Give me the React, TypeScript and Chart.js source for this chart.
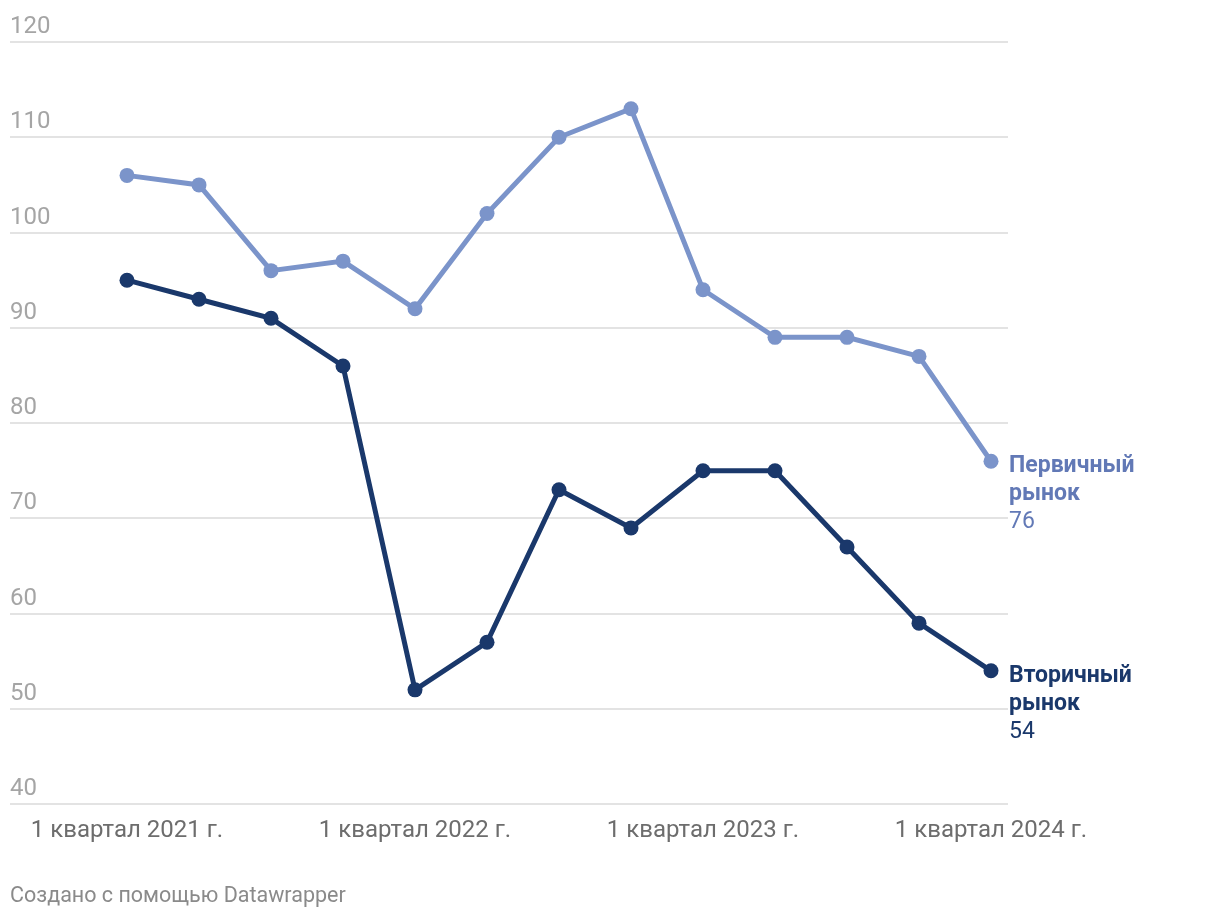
import React, { useEffect, useRef } from "react";
import { Chart, registerables } from "chart.js";

Chart.register(...registerables);

const quarters = [
  "1 квартал 2021 г.", "2 квартал 2021 г.", "3 квартал 2021 г.", "4 квартал 2021 г.",
  "1 квартал 2022 г.", "2 квартал 2022 г.", "3 квартал 2022 г.", "4 квартал 2022 г.",
  "1 квартал 2023 г.", "2 квартал 2023 г.", "3 квартал 2023 г.", "4 квартал 2023 г.",
  "1 квартал 2024 г.",
];
const labeledTicks = [0, 4, 8, 12];
const primary = [106, 105, 96, 97, 92, 102, 110, 113, 94, 89, 89, 87, 76];
const secondary = [95, 93, 91, 86, 52, 57, 73, 69, 75, 75, 67, 59, 54];
const seriesNames = [["Первичный", "рынок"], ["Вторичный", "рынок"]];
const yTicks = [40, 50, 60, 70, 80, 90, 100, 110, 120];
const footerText = "Создано с помощью Datawrapper";

const LIGHT = "#7b94ca";
const LIGHT_TEXT = "#6279b6";
const DARK = "#1a386b";
const FONT = "Roboto, 'Noto Sans', sans-serif";

export default function App() {
  const ref = useRef<HTMLCanvasElement | null>(null);

  useEffect(() => {
    document.body.style.margin = "0";
    const canvas = ref.current;
    if (!canvas) return;

    const endLabels = {
      id: "endLabels",
      afterDatasetsDraw(chart: any) {
        const ctx = chart.ctx;
        ctx.save();
        chart.data.datasets.forEach((ds: any, i: number) => {
          const meta = chart.getDatasetMeta(i);
          const last = meta.data[meta.data.length - 1];
          const val = ds.data[ds.data.length - 1].y;
          const x = last.x + 18;
          const y = last.y + 5;
          ctx.textAlign = "left";
          ctx.textBaseline = "middle";
          ctx.fillStyle = ds.labelColor;
          ctx.font = `bold 23px ${FONT}`;
          ctx.fillText(seriesNames[i][0], x, y);
          ctx.fillText(seriesNames[i][1], x, y + 28);
          ctx.font = `23px ${FONT}`;
          ctx.fillText(String(val), x, y + 56);
        });
        ctx.restore();
      },
    };

    const footer = {
      id: "footer",
      afterDraw(chart: any) {
        const ctx = chart.ctx;
        ctx.save();
        ctx.font = `21.5px ${FONT}`;
        ctx.fillStyle = "#8a8a8a";
        ctx.textAlign = "left";
        ctx.textBaseline = "middle";
        ctx.fillText(footerText, 10, 897);
        ctx.restore();
      },
    };

    const chart = new Chart(canvas, {
      type: "line",
      data: {
        datasets: [
          {
            label: seriesNames[0].join(" "),
            data: primary.map((v, i) => ({ x: i, y: v })),
            borderColor: LIGHT,
            backgroundColor: LIGHT,
            pointBackgroundColor: LIGHT,
            pointBorderWidth: 0,
            borderWidth: 5,
            pointRadius: 7.5,
            tension: 0,
            labelColor: LIGHT_TEXT,
          } as any,
          {
            label: seriesNames[1].join(" "),
            data: secondary.map((v, i) => ({ x: i, y: v })),
            borderColor: DARK,
            backgroundColor: DARK,
            pointBackgroundColor: DARK,
            pointBorderWidth: 0,
            borderWidth: 5,
            pointRadius: 7.5,
            tension: 0,
            labelColor: DARK,
          } as any,
        ],
      },
      options: {
        animation: false,
        responsive: false,
        maintainAspectRatio: false,
        layout: { padding: { left: 10, right: 212, top: 42, bottom: 63 } },
        plugins: {
          legend: { display: false },
          tooltip: { enabled: false },
        },
        scales: {
          x: {
            type: "linear",
            min: -1.625,
            max: 12.236,
            afterBuildTicks: (axis: any) => {
              axis.ticks = labeledTicks.map((v) => ({ value: v }));
            },
            grid: { display: false, drawTicks: false },
            border: { display: false },
            ticks: {
              padding: 12,
              maxRotation: 0,
              autoSkip: false,
              color: "#6d6d6d",
              font: { family: FONT, size: 24 },
              callback: (v: any) => quarters[v as number] ?? "",
            },
          },
          y: {
            min: 40,
            max: 120,
            afterBuildTicks: (axis: any) => {
              axis.ticks = yTicks.map((v) => ({ value: v }));
            },
            grid: { color: "#e3e3e3", lineWidth: 2, drawTicks: false },
            border: { display: false },
            ticks: {
              mirror: true,
              padding: 0,
              labelOffset: -15,
              color: "#a5a5a5",
              font: { family: FONT, size: 24 },
            },
          },
        },
      },
      plugins: [endLabels, footer],
    });
    return () => chart.destroy();
  }, []);

  return <canvas ref={ref} width={1220} height={920} style={{ display: "block" }} />;
}
